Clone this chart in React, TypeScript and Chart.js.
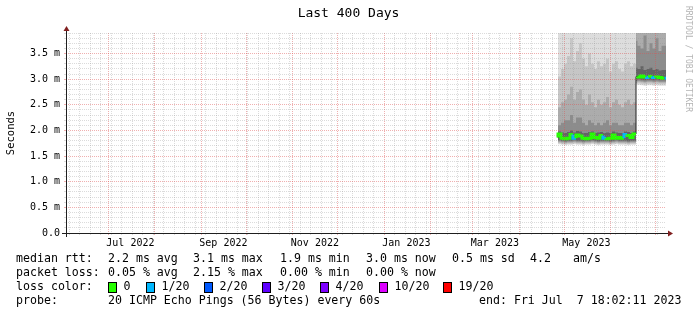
import React, { useEffect, useRef } from 'react';
import { Chart, registerables } from 'chart.js';
Chart.register(...registerables);

const MONO = '"DejaVu Sans Mono", monospace';

// ---- time axis: days since window start (Thu Jun 2 2022 18:02:11), 400-day window
const windowDays = 400;
const monthStartDays = [28.25, 59.25, 90.25, 120.25, 151.25, 181.25, 212.25, 243.25, 271.25, 302.25, 332.25, 363.25, 393.25];
const monthLabels = ['Jul 2022', '', 'Sep 2022', '', 'Nov 2022', '', 'Jan 2023', '', 'Mar 2023', '', 'May 2023', '', ''];
const firstWeekStart = 2.25; // Sun Jun 5 2022 00:00

// ---- y axis
const yMax = 3.9;
const yTickValues = [0, 0.5, 1.0, 1.5, 2.0, 2.5, 3.0, 3.5];
const yTickLabels = ['0.0', '0.5 m', '1.0 m', '1.5 m', '2.0 m', '2.5 m', '3.0 m', '3.5 m'];

// ---- samples (day index)
const sampleDays = [328, 330, 332, 334, 336, 338, 340, 342, 344, 346, 348, 350, 352, 354, 356, 358, 360, 362, 364, 366, 368, 370, 372, 374, 376, 378, 380,
  381, 383, 385, 387, 389, 391, 393, 395, 397, 399, 400];

// median rtt (ms)
const medianRtt = [1.86, 1.93, 1.85, 1.84, 1.85, 1.92, 1.85, 1.91, 1.89, 1.85, 1.84, 1.85, 1.93, 1.86, 1.85, 1.90, 1.85, 1.84, 1.85, 1.91, 1.85, 1.86, 1.85, 1.92, 1.90, 1.86, 1.93,
  3.05, 3.04, 3.06, 3.04, 3.03, 3.05, 3.03, 3.04, 3.03, 3.02, 3.02];

// lost pings out of 20
const lossCount = [0, 0, 0, 0, 0, 1, 0, 0, 0, 0, 0, 0, 0, 0, 0, 1, 0, 0, 0, 0, 0, 0, 1, 0, 0, 0, 0,
  0, 0, 0, 1, 0, 1, 0, 0, 0, 1, 0];

// smoke bands (ms), outer -> inner
const smoke1Lo = [1.72, 1.73, 1.72, 1.71, 1.72, 1.72, 1.73, 1.72, 1.72, 1.71, 1.72, 1.72, 1.73, 1.72, 1.71, 1.72, 1.72, 1.72, 1.71, 1.72, 1.73, 1.72, 1.72, 1.72, 1.71, 1.72, 1.72,
  2.88, 2.89, 2.88, 2.87, 2.88, 2.88, 2.87, 2.88, 2.87, 2.87, 2.87];
const smoke1Hi = [4.6, 4.8, 4.5, 4.7, 4.9, 5.2, 4.6, 4.8, 5.0, 4.7, 4.5, 4.9, 4.6, 4.5, 4.7, 4.6, 4.6, 4.8, 4.5, 4.6, 4.7, 4.5, 4.5, 4.6, 4.7, 4.6, 4.6,
  5.4, 5.1, 5.3, 5.6, 5.2, 5.0, 5.3, 5.5, 5.1, 5.2, 5.2];
const smoke2Lo = [1.74, 1.75, 1.74, 1.73, 1.74, 1.74, 1.75, 1.74, 1.74, 1.73, 1.74, 1.74, 1.75, 1.74, 1.73, 1.74, 1.74, 1.74, 1.73, 1.74, 1.75, 1.74, 1.74, 1.74, 1.73, 1.74, 1.74,
  2.91, 2.92, 2.91, 2.90, 2.91, 2.91, 2.90, 2.91, 2.90, 2.90, 2.90];
const smoke2Hi = [2.95, 3.05, 3.20, 3.30, 3.45, 3.80, 3.35, 3.55, 3.70, 3.40, 3.25, 3.50, 3.30, 3.20, 3.35, 3.25, 3.30, 3.40, 3.15, 3.30, 3.35, 3.20, 3.15, 3.30, 3.35, 3.25, 3.30,
  4.9, 4.6, 4.7, 5.0, 4.5, 4.6, 4.8, 4.9, 4.4, 4.6, 4.6];
const smoke3Lo = [1.76, 1.77, 1.76, 1.75, 1.76, 1.76, 1.77, 1.76, 1.76, 1.75, 1.76, 1.76, 1.77, 1.76, 1.75, 1.76, 1.76, 1.76, 1.75, 1.76, 1.77, 1.76, 1.76, 1.76, 1.75, 1.76, 1.76,
  2.94, 2.95, 2.94, 2.93, 2.94, 2.94, 2.93, 2.94, 2.93, 2.93, 2.93];
const smoke3Hi = [2.35, 2.45, 2.55, 2.60, 2.70, 2.85, 2.60, 2.75, 2.80, 2.60, 2.50, 2.70, 2.55, 2.45, 2.60, 2.50, 2.55, 2.65, 2.45, 2.55, 2.60, 2.50, 2.45, 2.55, 2.60, 2.50, 2.55,
  4.6, 4.3, 4.2, 4.5, 4.1, 4.3, 4.2, 4.4, 4.0, 4.2, 4.2];
const smoke4Lo = [1.78, 1.79, 1.78, 1.77, 1.78, 1.78, 1.79, 1.78, 1.78, 1.77, 1.78, 1.78, 1.79, 1.78, 1.77, 1.78, 1.78, 1.78, 1.77, 1.78, 1.79, 1.78, 1.78, 1.78, 1.77, 1.78, 1.78,
  2.96, 2.97, 2.96, 2.95, 2.96, 2.96, 2.95, 2.96, 2.95, 2.95, 2.95];
const smoke4Hi = [2.05, 2.10, 2.15, 2.20, 2.20, 2.30, 2.15, 2.25, 2.25, 2.15, 2.10, 2.20, 2.15, 2.10, 2.15, 2.10, 2.15, 2.20, 2.10, 2.15, 2.15, 2.10, 2.10, 2.15, 2.15, 2.10, 2.15,
  3.75, 3.65, 3.60, 3.85, 3.55, 3.70, 3.60, 3.80, 3.55, 3.65, 3.65];
const smoke5Lo = [1.80, 1.81, 1.80, 1.79, 1.80, 1.80, 1.81, 1.80, 1.80, 1.79, 1.80, 1.80, 1.81, 1.80, 1.79, 1.80, 1.80, 1.80, 1.79, 1.80, 1.81, 1.80, 1.80, 1.80, 1.79, 1.80, 1.80,
  2.99, 3.00, 2.99, 2.98, 2.99, 2.99, 2.98, 2.99, 2.98, 2.98, 2.98];
const smoke5Hi = [1.95, 1.98, 1.96, 1.95, 1.97, 2.00, 1.96, 1.99, 1.98, 1.95, 1.95, 1.97, 1.98, 1.95, 1.96, 1.97, 1.95, 1.96, 1.95, 1.98, 1.96, 1.95, 1.95, 1.98, 1.97, 1.95, 1.98,
  3.22, 3.20, 3.25, 3.18, 3.20, 3.22, 3.18, 3.20, 3.17, 3.18, 3.18];

// ---- legend texts
const titleText = 'Last 400 Days';
const unitText = 'Seconds';
const watermarkText = 'RRDTOOL / TOBI OETIKER';
const medianStats = ['median rtt:', '2.2 ms avg', '3.1 ms max', '1.9 ms min', '3.0 ms now', '0.5 ms sd', '4.2', 'am/s'];
const lossStats = ['packet loss:', '0.05 % avg', '2.15 % max', '0.00 % min', '0.00 % now'];
const lossBuckets = [0, 1, 2, 3, 4, 10, 19];
const lossBucketLabels = ['0', '1/20', '2/20', '3/20', '4/20', '10/20', '19/20'];
const probeTexts = ['probe:', '20 ICMP Echo Pings (56 Bytes) every 60s', 'end: Fri Jul  7 18:02:11 2023'];

// ---- styles
const lossColors = ['#26ff00', '#00b8ff', '#0059ff', '#5e00ff', '#7e00ff', '#dd00ff', '#ff0000'];
const smokeColors = ['#dddddd', '#c6c6c6', '#acacac', '#8c8c8c', '#646464'];
const MINOR = 'rgba(143,143,143,0.32)';
const MAJOR = 'rgba(222,79,79,0.45)';

function lossColor(n: number) {
  let c = lossColors[0];
  lossBuckets.forEach((b, i) => { if (n >= b && (i === 0 ? n === 0 : n > 0)) c = lossColors[i]; });
  return c;
}

const xy = (arr: number[]) => arr.map((v, i) => ({ x: sampleDays[i], y: v }));

const decor = {
  id: 'rrdDecor',
  afterDraw(chart: any) {
    const { ctx, chartArea: a } = chart;
    ctx.save();
    // axes
    ctx.strokeStyle = '#1f1f1f';
    ctx.lineWidth = 1;
    ctx.beginPath();
    ctx.moveTo(a.left - 4, a.bottom + 0.5);
    ctx.lineTo(a.right + 4, a.bottom + 0.5);
    ctx.moveTo(a.left + 0.5, a.bottom + 4);
    ctx.lineTo(a.left + 0.5, a.top - 4);
    ctx.stroke();
    ctx.fillStyle = '#801f1f';
    ctx.beginPath();
    ctx.moveTo(a.right + 2, a.bottom + 0.5 - 3);
    ctx.lineTo(a.right + 7, a.bottom + 0.5);
    ctx.lineTo(a.right + 2, a.bottom + 0.5 + 3);
    ctx.closePath();
    ctx.fill();
    ctx.beginPath();
    ctx.moveTo(a.left + 0.5 - 3, a.top - 2);
    ctx.lineTo(a.left + 0.5, a.top - 7);
    ctx.lineTo(a.left + 0.5 + 3, a.top - 2);
    ctx.closePath();
    ctx.fill();

    // title
    ctx.fillStyle = '#000';
    ctx.font = `13px ${MONO}`;
    ctx.textAlign = 'center';
    ctx.textBaseline = 'middle';
    ctx.fillText(titleText, 348.5, 14);

    // watermark
    ctx.save();
    ctx.translate(688, 59);
    ctx.rotate(Math.PI / 2);
    ctx.font = `8px ${MONO}`;
    ctx.fillStyle = '#b4b4b4';
    ctx.fillText(watermarkText, 0, 0);
    ctx.restore();

    // legend
    ctx.textAlign = 'left';
    ctx.font = `11.6px ${MONO}`;
    ctx.fillStyle = '#000';
    const medX = [16, 108, 193, 280, 366, 452, 530, 573];
    medianStats.forEach((t, i) => ctx.fillText(t, medX[i], 259));
    const lossX = [16, 108, 193, 280, 366];
    lossStats.forEach((t, i) => ctx.fillText(t, lossX[i], 273));
    ctx.fillText('loss color:', 16, 287);
    const boxX = [108, 146, 204, 262, 320, 379, 443];
    lossBucketLabels.forEach((t, i) => {
      ctx.fillStyle = lossColors[i];
      ctx.fillRect(boxX[i], 282, 8, 10);
      ctx.strokeStyle = '#000';
      ctx.strokeRect(boxX[i] + 0.5, 282.5, 8, 10);
      ctx.fillStyle = '#000';
      ctx.fillText(t, boxX[i] + 15.5, 287);
    });
    const probeX = [16, 108, 479];
    probeTexts.forEach((t, i) => ctx.fillText(t, probeX[i], 301));
    ctx.restore();
  },
};

export default function App() {
  const ref = useRef<HTMLCanvasElement>(null);
  useEffect(() => {
    const canvas = ref.current!;
    const weekTicks: number[] = [];
    for (let d = firstWeekStart; d < windowDays; d += 7) weekTicks.push(d);
    const xTicks = Array.from(new Set([...weekTicks, ...monthStartDays])).sort((p, q) => p - q);
    const yTicks: number[] = [];
    for (let k = 0; k <= 39; k++) yTicks.push(k / 10);
    const isMajorX = (v: number) => monthStartDays.some(m => Math.abs(m - v) < 1e-6);
    const isMajorY = (v: number) => Math.abs(v * 2 - Math.round(v * 2)) < 1e-6;

    const layers = [
      [smoke1Lo, smoke1Hi], [smoke2Lo, smoke2Hi], [smoke3Lo, smoke3Hi], [smoke4Lo, smoke4Hi], [smoke5Lo, smoke5Hi],
    ];
    const datasets: any[] = [];
    layers.forEach(([lo, hi], i) => {
      datasets.push({ data: xy(lo), borderWidth: 0, pointRadius: 0, fill: false, stepped: 'after', order: 30 });
      datasets.push({ data: xy(hi), borderWidth: 0, pointRadius: 0, fill: '-1', backgroundColor: smokeColors[i], stepped: 'after', order: 10 - i });
    });
    datasets.push({ data: xy(medianRtt), borderColor: '#202020', borderWidth: 1, pointRadius: 0, fill: false, stepped: 'after', order: 1 });
    datasets.push({
      data: xy(medianRtt), borderWidth: 3, pointRadius: 0, fill: false, stepped: 'after', order: 0,
      borderColor: lossColors[0], borderCapStyle: 'butt',
      segment: {
        borderColor: (c: any) => (Math.abs(c.p1.parsed.y - c.p0.parsed.y) > 0.5 ? 'rgba(0,0,0,0)' : lossColor(lossCount[c.p0DataIndex])),
      },
    });

    const chart = new Chart(canvas, {
      type: 'line',
      data: { datasets },
      plugins: [decor],
      options: {
        responsive: false,
        animation: false,
        devicePixelRatio: 1,
        layout: { padding: { left: 0, right: 31, top: 33, bottom: 62 } },
        plugins: { legend: { display: false }, title: { display: false }, tooltip: { enabled: false } },
        scales: {
          x: {
            type: 'linear', min: 0, max: windowDays, position: 'bottom',
            afterBuildTicks: (s: any) => { s.ticks = xTicks.map(v => ({ value: v })); },
            afterFit: (s: any) => { s.height = 20; },
            ticks: {
              autoSkip: false, maxRotation: 0, minRotation: 0, labelOffset: 22, padding: 2, color: '#000',
              font: { family: MONO, size: 10 },
              callback: (v: any) => { const i = monthStartDays.findIndex(m => Math.abs(m - v) < 1e-6); return i >= 0 ? monthLabels[i] : ''; },
            },
            grid: { z: 1, drawTicks: true, tickLength: 2, lineWidth: 1, color: (c: any) => (c.tick && isMajorX(c.tick.value) ? MAJOR : MINOR) },
            border: { display: false, dash: [1, 1] },
          },
          y: {
            type: 'linear', min: 0, max: yMax, position: 'left',
            afterBuildTicks: (s: any) => { s.ticks = yTicks.map(v => ({ value: v })); },
            afterFit: (s: any) => { s.width = 66; },
            ticks: {
              autoSkip: false, padding: 4, color: '#000', font: { family: MONO, size: 10 },
              callback: (v: any) => { const i = yTickValues.findIndex(t => Math.abs(t - v) < 1e-6); return i >= 0 ? yTickLabels[i] : ''; },
            },
            grid: { z: 1, drawTicks: true, tickLength: 2, lineWidth: 1, color: (c: any) => (c.tick && isMajorY(c.tick.value) ? MAJOR : MINOR) },
            border: { display: false, dash: [1, 1] },
            title: { display: true, text: unitText, color: '#000', font: { family: MONO, size: 10.5 }, padding: { top: 5, bottom: 0 } },
          },
        },
      },
    } as any);
    return () => chart.destroy();
  }, []);
  return (
    <div style={{ position: 'fixed', left: 0, top: 0, width: 697, height: 315, background: '#fff' }}>
      <canvas ref={ref} width={697} height={315} style={{ display: 'block', width: 697, height: 315 }} />
    </div>
  );
}
